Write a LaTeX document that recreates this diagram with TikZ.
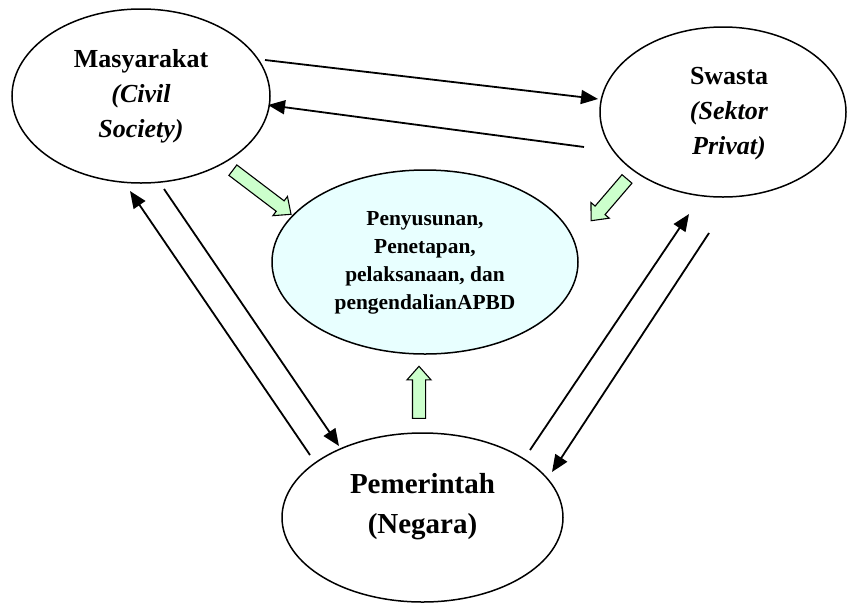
\documentclass[tikz,border=0pt]{standalone}
\usepackage{fontspec}
\setmainfont{Liberation Serif}
\usetikzlibrary{arrows.meta,shapes.geometric,shapes.arrows}

\definecolor{centerfill}{RGB}{232,255,255}
\definecolor{arrowgreen}{RGB}{204,255,204}

\tikzset{
  actor/.style={draw, ellipse, line width=1.5pt, inner sep=0pt},
  flow/.style={line width=1.8pt, -{Triangle[length=17pt,width=14pt]}},
  blockarrow/.style={single arrow, draw, line width=1.1pt, fill=arrowgreen,
    inner xsep=0pt, inner ysep=6pt, minimum width=23pt,
    single arrow head extend=5.5pt, single arrow tip angle=83},
  bigtext/.style={font=\fontsize{26}{35}\selectfont\bfseries, align=center},
  midtext/.style={font=\fontsize{21.4}{28}\selectfont\bfseries, align=center},
  govtext/.style={font=\fontsize{29}{40}\selectfont\bfseries, align=center}
}

\begin{document}
\begin{tikzpicture}[x=1pt,y=-1pt]
\useasboundingbox (0,0) rectangle (848,603);

% the four ellipses
\node[actor, minimum width=258pt, minimum height=174pt] (mas) at (141,96) {};
\node[actor, minimum width=246pt, minimum height=170pt] (swa) at (723,112) {};
\node[actor, fill=centerfill, minimum width=306pt, minimum height=184pt] (cen) at (425,262) {};
\node[actor, minimum width=281pt, minimum height=169pt] (pem) at (422.5,517.5) {};

% labels
\node[bigtext] (masText) at (141,96.5) {Masyarakat\\\textit{(Civil}\\\textit{Society)}};
\node[bigtext] (swaText) at (729,114) {Swasta\\\textit{(Sektor}\\\textit{Privat)}};
\node[midtext] (cenText) at (425,263) {Penyusunan,\\Penetapan,\\pelaksanaan, dan\\pengendalianAPBD};
\node[govtext] (pemText) at (422.5,506.5) {Pemerintah\\(Negara)};

% two-way relations between the actors
\draw[flow] ([shift={(124,-36)}]mas.center) -- ([shift={(-125,-13)}]swa.center);
\draw[flow] ([shift={(-139,35)}]swa.center) -- ([shift={(127,9)}]mas.center);
\draw[flow] ([shift={(-112.5,-62.5)}]pem.center) -- ([shift={(-11,95)}]mas.center);
\draw[flow] ([shift={(23,93)}]mas.center) -- ([shift={(-83.5,-71.5)}]pem.center);
\draw[flow] ([shift={(107.5,-67.5)}]pem.center) -- ([shift={(-34,102)}]swa.center);
\draw[flow] ([shift={(-14,121)}]swa.center) -- ([shift={(129.5,-45.5)}]pem.center);

% contributions to the budget process
\node[blockarrow, minimum height=73pt, rotate=-37.2] (masIn) at (259,190) {};
\node[blockarrow, minimum height=55pt, rotate=-130.6] (swaIn) at (611.5,197) {};
\node[blockarrow, minimum height=52pt, rotate=90] (pemIn) at (419,396) {};
\end{tikzpicture}
\end{document}
